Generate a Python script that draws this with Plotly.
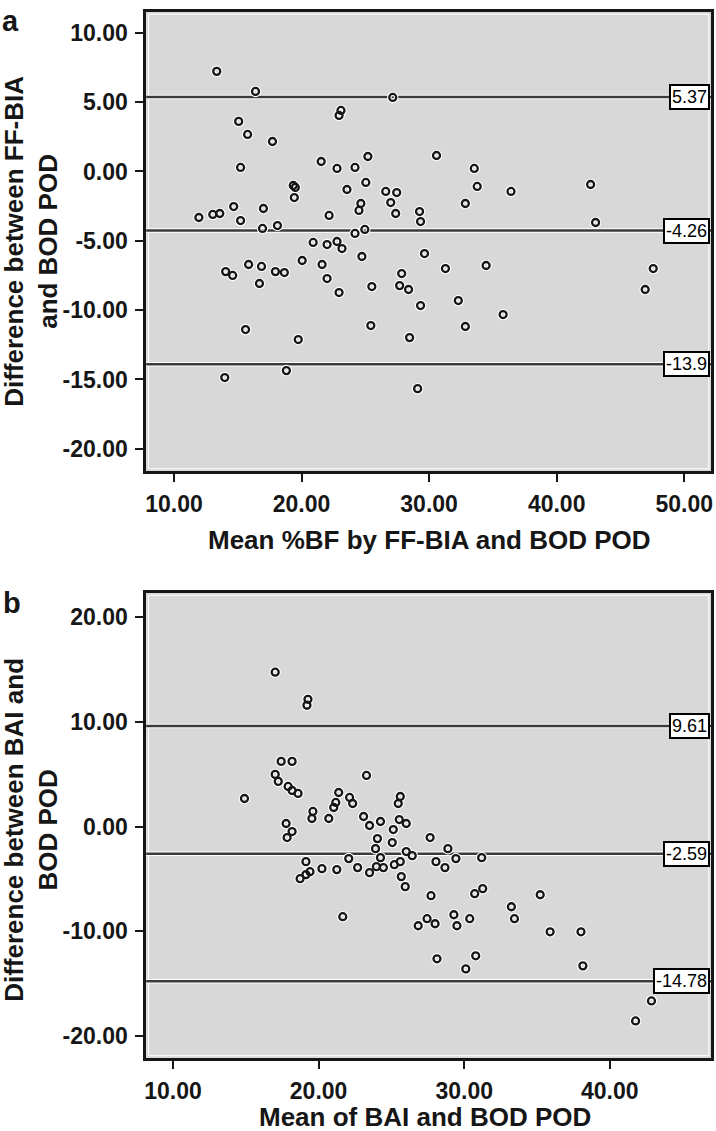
import plotly.graph_objects as go

# ---------------- Panel a: FF-BIA vs BOD POD ----------------
a_mean = [13.35, 16.39, 27.15, 23.09, 22.94, 15.07, 15.77, 17.72, 25.20, 30.58,
          21.54, 15.22, 22.78, 24.19, 33.54, 25.04, 19.35, 19.51, 23.56, 26.60,
          27.46, 33.77, 36.42, 42.66, 19.43, 26.99, 24.65, 24.50, 29.25, 32.84,
          11.95, 13.04, 13.59, 14.68, 17.01, 15.22, 22.16, 27.38, 29.33, 43.05,
          16.94, 18.11, 24.19, 24.96, 20.91, 22.00, 22.78, 23.17, 24.73, 29.64,
          20.05, 21.61, 31.28, 15.85, 16.86, 17.95, 18.65, 14.05, 14.60, 27.85,
          22.00, 34.47, 47.57, 16.70, 22.94, 25.51, 27.69, 28.39, 46.94, 29.33,
          32.29, 35.80, 15.61, 19.74, 25.43, 28.47, 32.84, 13.98, 18.81, 29.10]
a_diff = [7.22, 5.77, 5.34, 4.40, 4.04, 3.61, 2.67, 2.16, 1.08, 1.15,
          0.72, 0.29, 0.22, 0.29, 0.22, -0.79, -1.01, -1.15, -1.30, -1.44,
          -1.52, -1.08, -1.44, -0.94, -1.88, -2.24, -2.31, -2.81, -2.89, -2.31,
          -3.32, -3.10, -3.03, -2.53, -2.67, -3.54, -3.17, -3.03, -3.61, -3.68,
          -4.11, -3.90, -4.47, -4.18, -5.12, -5.27, -5.05, -5.56, -6.13, -5.92,
          -6.42, -6.71, -7.00, -6.71, -6.85, -7.22, -7.29, -7.22, -7.50, -7.36,
          -7.72, -6.78, -7.00, -8.08, -8.73, -8.30, -8.23, -8.51, -8.51, -9.67,
          -9.31, -10.32, -11.40, -12.12, -11.11, -11.98, -11.18, -14.86, -14.36, -15.66]
a_lines = [5.37, -4.26, -13.9]
a_line_labels = ["5.37", "-4.26", "-13.9"]
a_xticks = [10, 20, 30, 40, 50]
a_xticklabels = ["10.00", "20.00", "30.00", "40.00", "50.00"]
a_yticks = [-20, -15, -10, -5, 0, 5, 10]
a_yticklabels = ["-20.00", "-15.00", "-10.00", "-5.00", "0.00", "5.00", "10.00"]

# ---------------- Panel b: BAI vs BOD POD ----------------
b_mean = [14.91, 17.02, 19.27, 19.20, 17.43, 18.18, 17.02, 17.23, 17.91, 18.18,
          18.59, 19.61, 19.54, 20.70, 21.04, 21.18, 21.38, 22.13, 22.34, 23.29,
          17.77, 18.18, 17.84, 25.61, 25.47, 23.09, 23.50, 24.25, 25.54, 26.02,
          25.13, 24.04, 25.06, 23.91, 27.66, 28.88, 26.02, 26.43, 24.25, 29.43,
          31.20, 19.13, 22.07, 28.06, 19.41, 19.13, 18.73, 20.23, 21.25, 22.68,
          23.50, 23.97, 24.45, 25.20, 25.61, 25.68, 25.95, 28.68, 27.72, 30.72,
          31.27, 35.22, 33.24, 33.45, 27.45, 26.84, 28.00, 29.29, 29.50, 30.38,
          35.90, 38.02, 28.13, 30.79, 30.11, 38.15, 42.86, 41.77, 21.66]
b_diff = [2.68, 14.74, 12.15, 11.58, 6.22, 6.22, 4.98, 4.31, 3.83, 3.44,
          3.16, 1.44, 0.77, 0.77, 1.82, 2.30, 3.25, 2.78, 2.20, 4.88,
          0.29, -0.48, -1.05, 2.87, 2.20, 0.96, 0.10, 0.48, 0.67, 0.29,
          -0.29, -1.15, -1.53, -2.11, -1.05, -2.11, -2.39, -2.78, -2.97, -3.06,
          -2.97, -3.35, -3.06, -3.35, -4.31, -4.59, -4.98, -4.02, -4.11, -3.92,
          -4.40, -3.83, -3.92, -3.64, -3.35, -4.78, -5.74, -3.92, -6.60, -6.41,
          -5.93, -6.51, -7.66, -8.80, -8.80, -9.47, -9.28, -8.42, -9.47, -8.80,
          -10.05, -10.05, -12.63, -12.34, -13.59, -13.30, -16.65, -18.56, -8.61]
b_lines = [9.61, -2.59, -14.78]
b_line_labels = ["9.61", "-2.59", "-14.78"]
b_xticks = [10, 20, 30, 40]
b_xticklabels = ["10.00", "20.00", "30.00", "40.00"]
b_yticks = [-20, -10, 0, 10, 20]
b_yticklabels = ["-20.00", "-10.00", "0.00", "10.00", "20.00"]

W, H = 716, 1131
FONT = "Liberation Sans, Arial, Helvetica, sans-serif"
INK = "#161616"
BG = "#d8d8d8"


def px(xp):
    return xp / W


def py(yp):
    return 1 - yp / H


fig = go.Figure()

for mean, diff, xa, ya in [(a_mean, a_diff, "x", "y"), (b_mean, b_diff, "x2", "y2")]:
    fig.add_trace(go.Scatter(
        x=mean, y=diff, mode="markers", xaxis=xa, yaxis=ya, hoverinfo="skip",
        marker=dict(symbol="circle-open", size=7, color="white",
                    line=dict(width=4.5, color="white")),
        showlegend=False))
    fig.add_trace(go.Scatter(
        x=mean, y=diff, mode="markers", xaxis=xa, yaxis=ya,
        marker=dict(symbol="circle-open", size=7, color=INK,
                    line=dict(width=2.3, color=INK)),
        showlegend=False))

shapes = []
annotations = []
for lines, labels, xa, ya in [(a_lines, a_line_labels, "x", "y"),
                              (b_lines, b_line_labels, "x2", "y2")]:
    # thin white inner frame
    shapes.append(dict(type="rect", xref=f"{xa} domain", yref=f"{ya} domain",
                       x0=0.004, x1=0.996, y0=0.005, y1=0.995,
                       line=dict(color="white", width=1), layer="below"))
    for v, lab in zip(lines, labels):
        shapes.append(dict(type="line", xref=f"{xa} domain", yref=ya,
                           x0=0, x1=1, y0=v, y1=v,
                           line=dict(color="white", width=4.5), layer="below"))
        shapes.append(dict(type="line", xref=f"{xa} domain", yref=ya,
                           x0=0, x1=1, y0=v, y1=v,
                           line=dict(color="#3a3a3a", width=2.5), layer="below"))
        annotations.append(dict(xref="paper", yref=ya, x=px(712), y=v,
                                xanchor="right", yanchor="middle",
                                text=lab, showarrow=False,
                                font=dict(family=FONT, size=18, color="black"),
                                bgcolor="white", bordercolor="black",
                                borderwidth=2, borderpad=1))

title_font = dict(family=FONT, size=26, color=INK)
# panel letters
annotations.append(dict(xref="paper", yref="paper", x=px(9), y=py(21), text="<b>a</b>",
                        showarrow=False, xanchor="center", yanchor="middle",
                        font=dict(family=FONT, size=29, color=INK)))
annotations.append(dict(xref="paper", yref="paper", x=px(10), y=py(603), text="<b>b</b>",
                        showarrow=False, xanchor="center", yanchor="middle",
                        font=dict(family=FONT, size=29, color=INK)))
# axis titles
annotations.append(dict(xref="paper", yref="paper", x=px(430), y=py(540),
                        text="<b>Mean %BF by FF-BIA and BOD POD</b>", showarrow=False,
                        xanchor="center", yanchor="middle", font=title_font))
annotations.append(dict(xref="paper", yref="paper", x=px(425), y=py(1117),
                        text="<b>Mean of BAI and BOD POD</b>", showarrow=False,
                        xanchor="center", yanchor="middle", font=title_font))
annotations.append(dict(xref="paper", yref="paper", x=px(29), y=py(241),
                        text="<b>Difference between FF-BIA<br>and BOD POD</b>",
                        showarrow=False, textangle=-90,
                        xanchor="center", yanchor="middle", font=title_font))
annotations.append(dict(xref="paper", yref="paper", x=px(29), y=py(830),
                        text="<b>Difference between BAI and<br>BOD POD</b>",
                        showarrow=False, textangle=-90,
                        xanchor="center", yanchor="middle", font=title_font))

axis_common = dict(showline=True, mirror=True, linecolor=INK, linewidth=2.5,
                   ticks="outside", ticklen=8, tickwidth=1.5, tickcolor=INK,
                   showgrid=False, zeroline=False, fixedrange=True,
                   ticklabelstandoff=3,
                   tickfont=dict(family=FONT, size=23, color=INK, weight="bold"),
                   tickmode="array")

xdom = [px(145), px(713)]
fig.update_layout(
    width=W, height=H,
    margin=dict(l=0, r=0, t=0, b=0),
    paper_bgcolor="white", plot_bgcolor=BG,
    showlegend=False,
    xaxis=dict(domain=xdom, anchor="y", range=[7.82, 52.1],
               tickvals=a_xticks, ticktext=a_xticklabels, **axis_common),
    yaxis=dict(domain=[py(471), py(12)], anchor="x", range=[-21.6, 11.5],
               tickvals=a_yticks, ticktext=a_yticklabels, **axis_common),
    xaxis2=dict(domain=xdom, anchor="y2", range=[8.16, 46.95],
                tickvals=b_xticks, ticktext=b_xticklabels, **axis_common),
    yaxis2=dict(domain=[py(1058), py(593)], anchor="x2", range=[-22.1, 22.3],
                tickvals=b_yticks, ticktext=b_yticklabels, **axis_common),
    shapes=shapes,
    annotations=annotations,
)

fig.write_html(
    "out.html",
    config={"displayModeBar": False},
    post_script="document.body.style.margin='0';document.body.style.padding='0';"
                "document.body.style.overflow='hidden';",
)
